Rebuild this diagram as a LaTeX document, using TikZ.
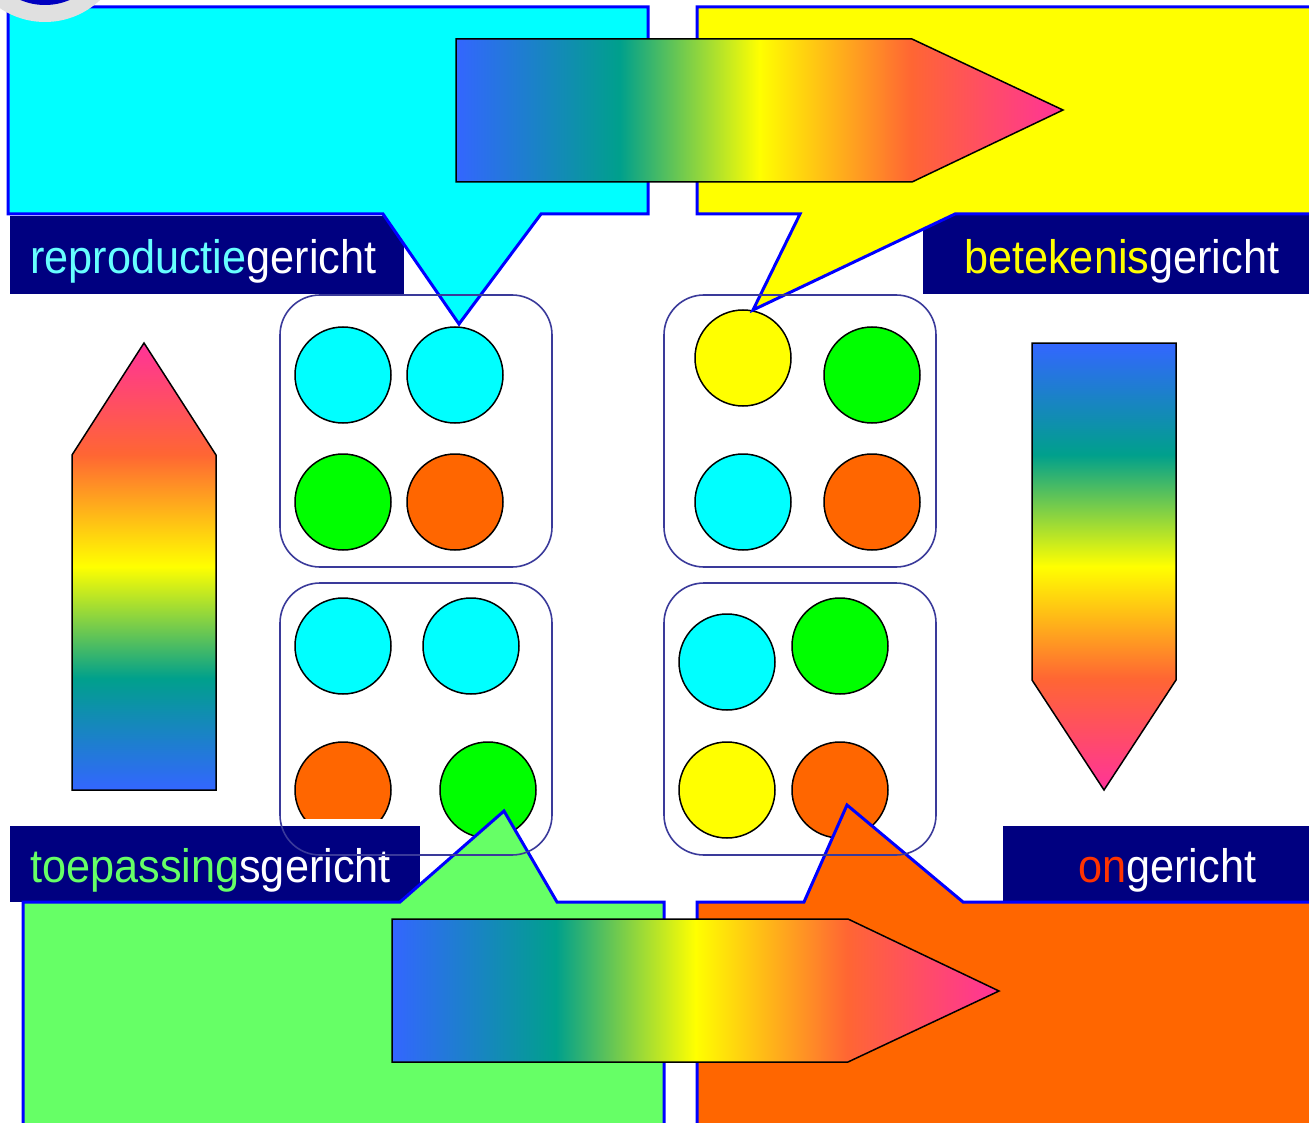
\documentclass[tikz,border=0pt]{standalone}
\usepackage{fontspec}
\newfontfamily\lblfont[FakeStretch=0.92]{Liberation Sans}
\definecolor{rbBlue}{HTML}{3366FF}
\definecolor{rbTeal}{HTML}{00A08C}
\definecolor{rbYellow}{HTML}{FFFF00}
\definecolor{rbOrange}{HTML}{FF6633}
\definecolor{rbPink}{HTML}{FF3399}
\definecolor{navy}{HTML}{000080}
\definecolor{cblue}{HTML}{0000FF}
\definecolor{boxline}{HTML}{3A3A9A}
\definecolor{fcyan}{HTML}{00FFFF}
\definecolor{fgreen}{HTML}{00FF00}
\definecolor{forange}{HTML}{FF6600}
\definecolor{fyellow}{HTML}{FFFF00}
\definecolor{lgreen}{HTML}{66FF66}
\definecolor{tcyan}{HTML}{66FFFF}
\definecolor{tred}{HTML}{FF3300}
\definecolor{ringgray}{HTML}{E0E0E0}
\definecolor{ringblue}{HTML}{0000C0}
\pgfdeclarehorizontalshading{rainbowh}{100bp}{color(0bp)=(rbBlue); color(25bp)=(rbBlue); color(38.5bp)=(rbTeal); color(50bp)=(rbYellow); color(62.5bp)=(rbOrange); color(75bp)=(rbPink); color(100bp)=(rbPink)}
\pgfdeclareverticalshading{rainbowup}{100bp}{color(0bp)=(rbBlue); color(25bp)=(rbBlue); color(37.5bp)=(rbTeal); color(50bp)=(rbYellow); color(62.5bp)=(rbOrange); color(75bp)=(rbPink); color(100bp)=(rbPink)}
\pgfdeclareverticalshading{rainbowdown}{100bp}{color(0bp)=(rbPink); color(25bp)=(rbPink); color(37.5bp)=(rbOrange); color(50bp)=(rbYellow); color(62.5bp)=(rbTeal); color(75bp)=(rbBlue); color(100bp)=(rbBlue)}
\begin{document}
\begin{tikzpicture}[x=1pt,y=-1pt,
  dot/.style={circle, draw=black, line width=1.5pt, minimum size=96pt, inner sep=0pt},
  groupbox/.style={draw=boxline, line width=1.6pt, rounded corners=40pt, minimum width=272pt, minimum height=272pt, inner sep=0pt},
  callout/.style={draw=cblue, line width=3pt, line join=miter},
  labelbox/.style={fill=navy},
  lbl/.style={text=white, font=\lblfont\fontsize{47}{56}\selectfont, inner sep=0pt, anchor=base west},
  rarrow/.style={draw=black, line width=1.5pt, line join=miter}]
\useasboundingbox (0,0) rectangle (1309,1123);
\fill[white] (0,0) rectangle (1309,1123);
\begin{scope}
\clip (0,0) rectangle (1309,1123);
% circles
\node[dot, fill=fcyan]   (a1) at (343,375) {};
\node[dot, fill=fcyan]   (a2) at (455,375) {};
\node[dot, fill=fgreen]  (a3) at (343,502) {};
\node[dot, fill=forange] (a4) at (455,502) {};
\node[dot, fill=fyellow] (b1) at (743,358) {};
\node[dot, fill=fgreen]  (b2) at (872,375) {};
\node[dot, fill=fcyan]   (b3) at (743,502) {};
\node[dot, fill=forange] (b4) at (872,502) {};
\node[dot, fill=fcyan]   (c1) at (343,646) {};
\node[dot, fill=fcyan]   (c2) at (471,646) {};
\node[dot, fill=forange] (c3) at (343,790) {};
\node[dot, fill=fgreen]  (c4) at (488,790) {};
\node[dot, fill=fcyan]   (d1) at (727,662) {};
\node[dot, fill=fgreen]  (d2) at (840,646) {};
\node[dot, fill=fyellow] (d3) at (727,790) {};
\node[dot, fill=forange] (d4) at (840,790) {};
% label boxes
\fill[labelbox] (10,216) rectangle (404,294);
\fill[labelbox] (923,214) rectangle (1320,294);
\fill[white] (10,819) rectangle (420,826);
\fill[labelbox] (10,826) rectangle (420,902);
\fill[labelbox] (1003,826) rectangle (1320,902);
% callouts
\path[callout, fill=fcyan] (8,7) -- (648,7) -- (648,214) -- (541,214) -- (459,324) -- (383,214) -- (8,214) -- cycle;
\path[callout, fill=fyellow] (697,7) -- (1330,7) -- (1330,214) -- (955,214) -- (753,310) -- (800,214) -- (697,214) -- cycle;
\path[callout, fill=lgreen] (23,1140) -- (23,902) -- (400,902) -- (504,811) -- (557,902) -- (664,902) -- (664,1140);
\path[callout, fill=forange] (697,1140) -- (697,902) -- (804,902) -- (847,805) -- (963,902) -- (1330,902) -- (1330,1140);
% corner ring
\fill[ringgray] (45,-58) circle (80);
\fill[ringblue] (45,-58) circle (63);
% label texts
\node[lbl] (t1) at (30,274) {\textcolor{tcyan}{reproductie}gericht};
\node[lbl] (t2) at (964,274) {\textcolor{fyellow}{betekenis}gericht};
\node[lbl] (t3) at (30,882) {\textcolor{lgreen}{toepassing}sgericht};
\node[lbl] (t4) at (1078,882) {\textcolor{tred}{on}gericht};
% group boxes
\node[groupbox] (g1) at (416,431) {};
\node[groupbox] (g2) at (800,431) {};
\node[groupbox] (g3) at (416,719) {};
\node[groupbox] (g4) at (800,719) {};
% gradient arrows
\path[rarrow, shading=rainbowh] (456,39) -- (912,39) -- (1063,110) -- (912,182) -- (456,182) -- cycle;
\path[rarrow, shading=rainbowh] (392,919) -- (848,919) -- (999,991) -- (848,1062) -- (392,1062) -- cycle;
\path[rarrow, shading=rainbowup] (72,790) -- (72,455) -- (144,343) -- (216,455) -- (216,790) -- cycle;
\path[rarrow, shading=rainbowdown] (1032,343) -- (1176,343) -- (1176,680) -- (1104,790) -- (1032,680) -- cycle;
\end{scope}
\end{tikzpicture}
\end{document}
